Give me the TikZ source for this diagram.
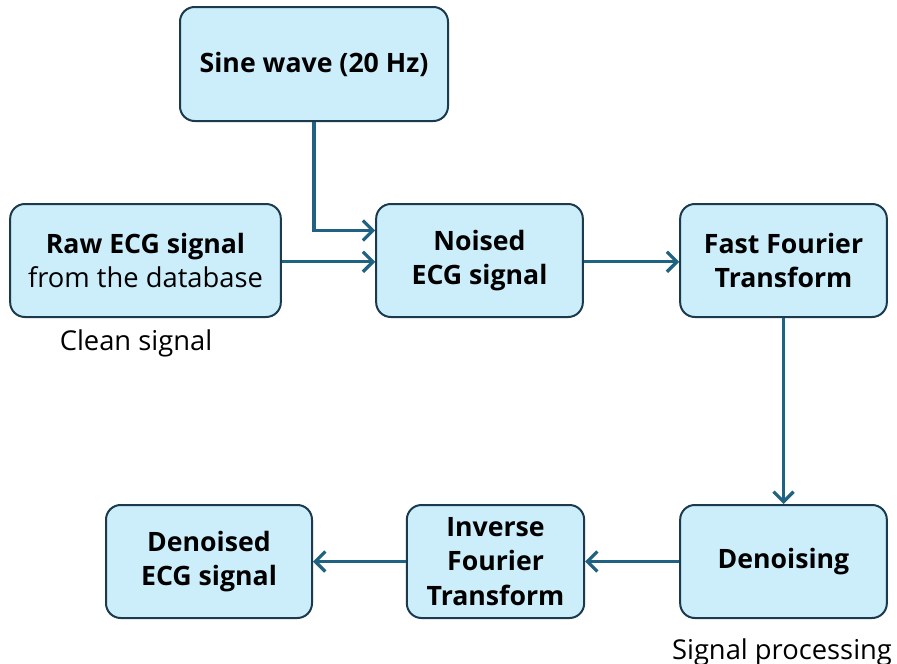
\documentclass[tikz,border=0pt]{standalone}
\usepackage{fontspec}
\setmainfont{Open Sans}
\usetikzlibrary{arrows.meta,positioning,calc}
\definecolor{boxfill}{HTML}{CCEEFB}
\definecolor{boxdraw}{HTML}{1B3A4E}
\definecolor{arrowc}{HTML}{1F6282}
\tikzset{
  box/.style={draw=boxdraw, fill=boxfill, line width=1.5pt, rounded corners=11pt,
    minimum height=84.75pt, align=center, font=\fontsize{20}{26}\selectfont\bfseries, inner sep=0pt},
  conn/.style={draw=arrowc, line width=2.4pt, -{Straight Barb[length=7.5pt,width=15pt,line width=2.4pt]}},
  lbl/.style={font=\fontsize{20.5}{26}\selectfont, inner sep=0pt}
}
\begin{document}
\begin{tikzpicture}[x=0.75pt,y=-0.75pt]
\useasboundingbox (0,0) rectangle (897,664);
\node[box, minimum width=201pt, minimum height=85.5pt] (sine) at (314,64) {Sine wave (20 Hz)};
\node[box, minimum width=203pt] (raw) at (145.5,260.5) {Raw ECG signal\\{\fontsize{20.5}{26}\selectfont\mdseries from the database}};
\node[box, minimum width=155pt] (noised) at (479.5,260.5) {Noised\\ECG signal};
\node[box, minimum width=155pt] (fft) at (783.5,260.5) {Fast Fourier\\Transform};
\node[box, minimum width=155pt] (den) at (783.5,561.5) {Denoising};
\node[box, minimum width=133pt] (inv) at (495.5,561.5) {Inverse\\Fourier\\Transform};
\node[box, minimum width=154.5pt] (out) at (209,561.5) {Denoised\\ECG signal};
\node[lbl] (clean) at (136,343) {Clean signal};
\node[lbl] (proc) at (782,652) {Signal processing};
\draw[conn] (sine.south) |- ([yshift=22.5pt]noised.west);
\draw[conn] ([yshift=-1pt]raw.east) -- ([yshift=-1pt]noised.west);
\draw[conn] ([yshift=-1pt]noised.east) -- ([yshift=-1pt]fft.west);
\draw[conn] (fft.south) -- (den.north);
\draw[conn] (den.west) -- (inv.east);
\draw[conn] (inv.west) -- (out.east);
\end{tikzpicture}
\end{document}
